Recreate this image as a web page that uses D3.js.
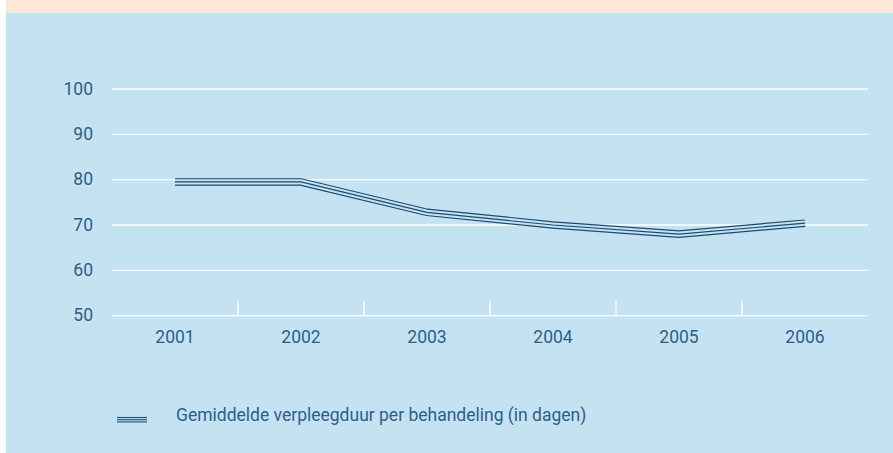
<!DOCTYPE html>
<html><head><meta charset="utf-8">
<script src="https://cdn.jsdelivr.net/npm/d3@7"></script>
<style>html,body{margin:0;padding:0;background:#fff;}svg{display:block;}</style>
</head><body>
<svg id="chart" width="893" height="453"></svg>
<script>
const years = ["2001","2002","2003","2004","2005","2006"];
const values = [79.5, 79.5, 72.8, 70.0, 68.0, 70.4];
const yTicks = [50, 60, 70, 80, 90, 100];
const legendLabel = "Gemiddelde verpleegduur per behandeling (in dagen)";

const svg = d3.select("#chart");
const W = 893, H = 453;
const bg = "#c5e2f3", peach = "#fde8d8", textCol = "#2d5f86", lineCol = "#1b4b6c";
const font = "Roboto";
const weight = 400;

svg.append("rect").attr("x",6).attr("y",0).attr("width",W-6).attr("height",13).attr("fill",peach);
svg.append("rect").attr("x",6).attr("y",13).attr("width",W-6).attr("height",H-13).attr("fill",bg);

const x = d3.scaleBand().domain(years).range([112, 868]);
const y = d3.scaleLinear().domain([50, 100]).range([315.7, 89]);

// gridlines
svg.append("g").selectAll("line").data(yTicks).join("line")
  .attr("x1",112).attr("x2",868).attr("y1",d=>y(d)).attr("y2",d=>y(d))
  .attr("stroke","#fff").attr("stroke-width",1.3);

// y labels
const yAxis = d3.axisLeft(y).tickValues(yTicks).tickSize(0).tickPadding(0);
const gy = svg.append("g").attr("transform","translate(93,0)").call(yAxis);
gy.select(".domain").remove();
gy.selectAll("text").attr("fill",textCol).attr("font-family",font).attr("font-weight",weight).attr("font-size",17.5).attr("dy","0.3em");

// x ticks between categories
const inner = years.slice(1).map(d=>x(d));
svg.append("g").selectAll("line").data(inner).join("line")
  .attr("x1",d=>d).attr("x2",d=>d).attr("y1",301).attr("y2",315.7)
  .attr("stroke","#fff").attr("stroke-width",1.3);

// x labels
const xAxis = d3.axisBottom(x).tickSize(0).tickPadding(0);
const gx = svg.append("g").attr("transform","translate(0,331)").call(xAxis);
gx.select(".domain").remove();
gx.selectAll("text").attr("fill",textCol).attr("font-family",font).attr("font-weight",weight).attr("font-size",17.5).attr("dy","0.71em");

// triple line
const line = d3.line().x((d,i)=>x(years[i])+x.bandwidth()/2).y(d=>y(d));
const path = line(values);
svg.append("path").attr("d",path).attr("fill","none").attr("stroke",lineCol).attr("stroke-width",7.6);
svg.append("path").attr("d",path).attr("fill","none").attr("stroke",bg).attr("stroke-width",5.2);
svg.append("path").attr("d",path).attr("fill","none").attr("stroke",lineCol).attr("stroke-width",1.2);

// legend
const lg = svg.append("g");
[417.5, 419.7, 421.9].forEach(yy=>{
  lg.append("line").attr("x1",117).attr("x2",147).attr("y1",yy).attr("y2",yy).attr("stroke",lineCol).attr("stroke-width",1.1);
});
lg.append("text").attr("x",176).attr("y",421).attr("fill",textCol).attr("font-family",font).attr("font-weight",weight).attr("font-size",17.5)
  .text(legendLabel);
</script>
</body></html>
